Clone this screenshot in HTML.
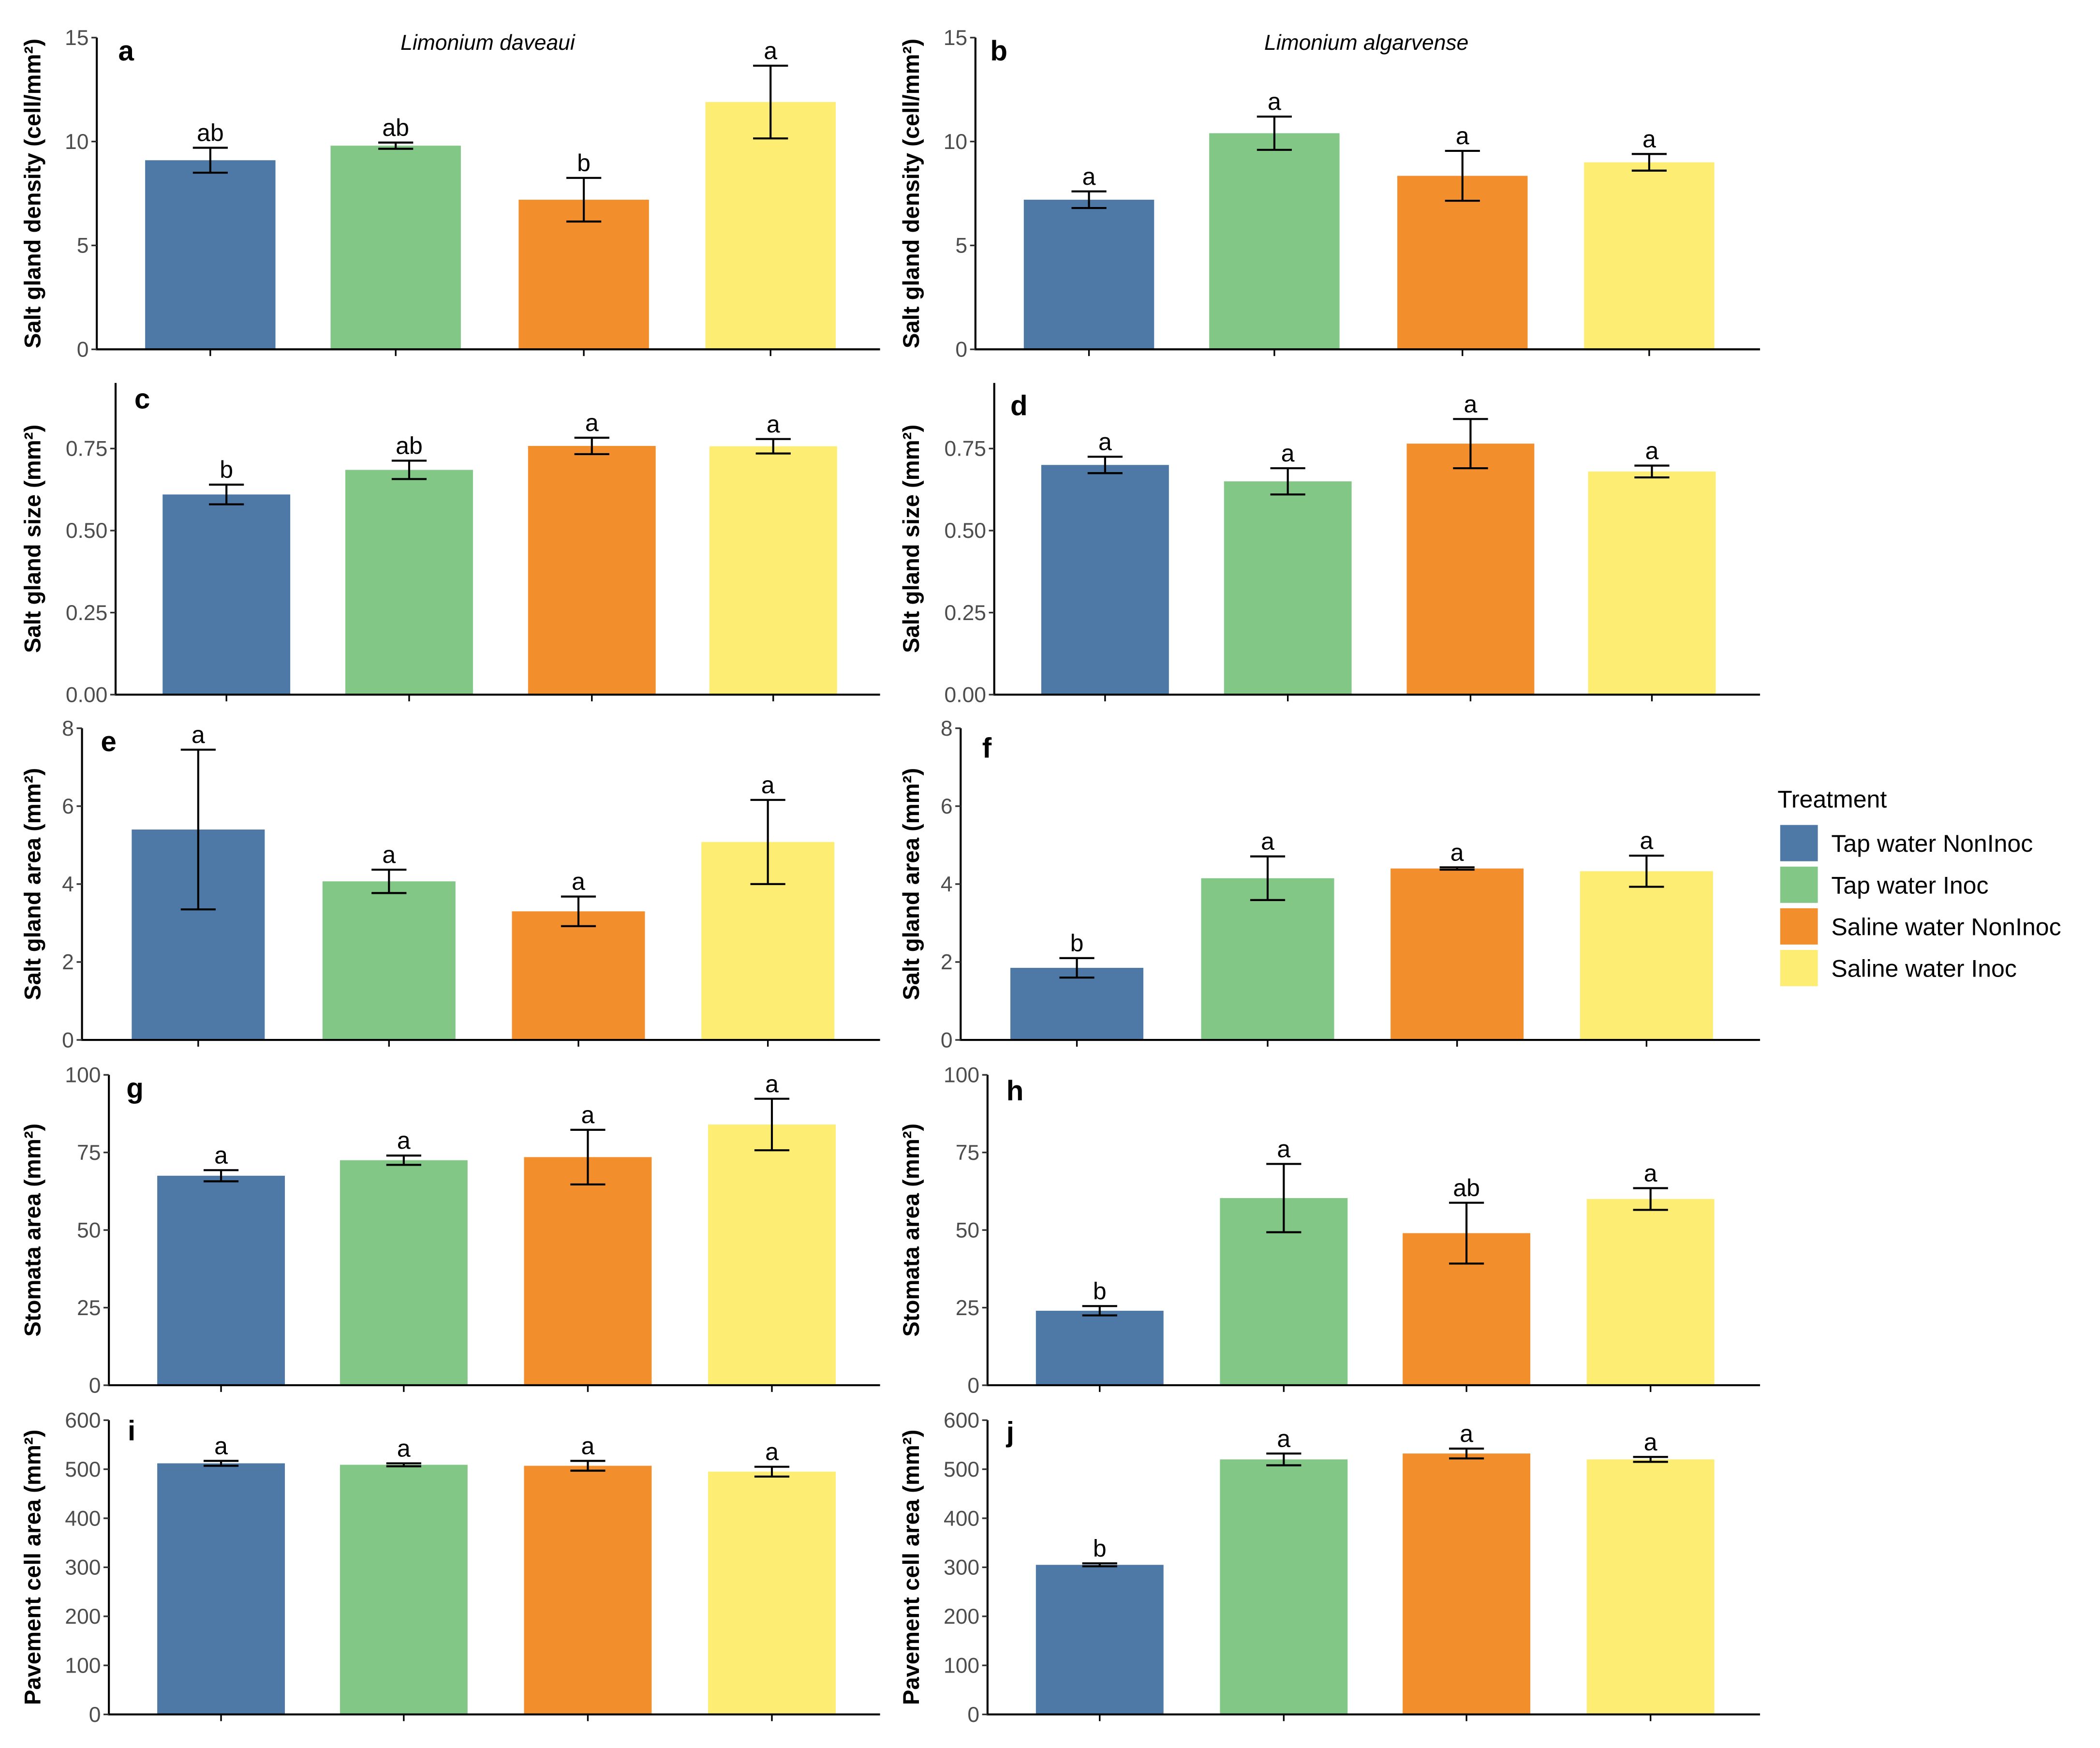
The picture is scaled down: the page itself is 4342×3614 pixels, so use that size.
<!DOCTYPE html>
<html><head><meta charset="utf-8"><style>
html,body{margin:0;padding:0;background:#fff;}
svg{display:block;}
text{font-family:"Liberation Sans",sans-serif;}
</style></head><body>
<svg id="fig" width="4342" height="3614" viewBox="0 0 1563 1301" xmlns="http://www.w3.org/2000/svg"></svg>
<script>
const treatments = ["Tap water NonInoc","Tap water Inoc","Saline water NonInoc","Saline water Inoc"];
const colors = ["#4e78a6","#82c785","#f28e2b","#fded72"];
const meansA = [9.1, 9.8, 7.2, 11.9];       const errA = [0.6, 0.15, 1.05, 1.75]; const lettersA = ["ab","ab","b","a"];
const meansB = [7.2, 10.4, 8.35, 9.0];      const errB = [0.4, 0.8, 1.2, 0.4];    const lettersB = ["a","a","a","a"];
const meansC = [0.61, 0.685, 0.758, 0.757]; const errC = [0.03, 0.028, 0.025, 0.022]; const lettersC = ["b","ab","a","a"];
const meansD = [0.70, 0.65, 0.765, 0.68];   const errD = [0.025, 0.04, 0.075, 0.018]; const lettersD = ["a","a","a","a"];
const meansE = [5.4, 4.07, 3.3, 5.08];      const errE = [2.05, 0.3, 0.38, 1.08]; const lettersE = ["a","a","a","a"];
const meansF = [1.85, 4.15, 4.4, 4.33];     const errF = [0.25, 0.56, 0.03, 0.4]; const lettersF = ["b","a","a","a"];
const meansG = [67.5, 72.5, 73.5, 84];      const errG = [1.8, 1.5, 8.8, 8.3];    const lettersG = ["a","a","a","a"];
const meansH = [24, 60.3, 49, 60];          const errH = [1.5, 11, 9.8, 3.5];     const lettersH = ["b","a","ab","a"];
const meansI = [512, 509, 507, 495];        const errI = [5, 3, 10, 10];          const lettersI = ["a","a","a","a"];
const meansJ = [305, 520, 532, 520];        const errJ = [3, 12, 10, 5];          const lettersJ = ["b","a","a","a"];
const ticks15 = [0,5,10,15];
const ticksSize = ["0.00","0.25","0.50","0.75"];
const ticks8 = [0,2,4,6,8];
const ticks100 = [0,25,50,75,100];
const ticks600 = [0,100,200,300,400,500,600];

const svg = document.getElementById('fig');
const NS = "http://www.w3.org/2000/svg";
function el(tag, attrs, parent){ const e=document.createElementNS(NS,tag); for(const k in attrs) e.setAttribute(k,attrs[k]); (parent||svg).appendChild(e); return e; }

const panels = [
 {id:"a", ax:72, top:28, bot:260, xr:655, ymax:15, ticks:ticks15, bx:[108,246,386,525], bw:97, m:meansA, e:errA, l:lettersA, title:"Salt gland density (cell/mm²)", tx:24, lx:88, ly:45},
 {id:"b", ax:726, top:28, bot:260, xr:1310, ymax:15, ticks:ticks15, bx:[762,900,1040,1179], bw:97, m:meansB, e:errB, l:lettersB, title:"Salt gland density (cell/mm²)", tx:678, lx:737, ly:45},
 {id:"c", ax:86, top:285, bot:517, xr:655, ymax:0.95, ticks:ticksSize, bx:[121,257,393,528], bw:95, m:meansC, e:errC, l:lettersC, title:"Salt gland size (mm²)", tx:24, lx:100, ly:304},
 {id:"d", ax:740, top:285, bot:517, xr:1310, ymax:0.95, ticks:ticksSize, bx:[775,911,1047,1182], bw:95, m:meansD, e:errD, l:lettersD, title:"Salt gland size (mm²)", tx:678, lx:752, ly:309},
 {id:"e", ax:61, top:542, bot:774, xr:655, ymax:8, ticks:ticks8, bx:[98,240,381,522], bw:99, m:meansE, e:errE, l:lettersE, title:"Salt gland area (mm²)", tx:24, lx:75, ly:559},
 {id:"f", ax:715, top:542, bot:774, xr:1310, ymax:8, ticks:ticks8, bx:[752,894,1035,1176], bw:99, m:meansF, e:errF, l:lettersF, title:"Salt gland area (mm²)", tx:678, lx:731, ly:564},
 {id:"g", ax:81, top:800, bot:1031, xr:655, ymax:100, ticks:ticks100, bx:[117,253,390,527], bw:95, m:meansG, e:errG, l:lettersG, title:"Stomata area (mm²)", tx:24, lx:94, ly:817},
 {id:"h", ax:735, top:800, bot:1031, xr:1310, ymax:100, ticks:ticks100, bx:[771,908,1044,1181], bw:95, m:meansH, e:errH, l:lettersH, title:"Stomata area (mm²)", tx:678, lx:749, ly:819},
 {id:"i", ax:81, top:1057, bot:1276, xr:655, ymax:600, ticks:ticks600, bx:[117,253,390,527], bw:95, m:meansI, e:errI, l:lettersI, title:"Pavement cell area (mm²)", tx:24, lx:95, ly:1072},
 {id:"j", ax:735, top:1057, bot:1276, xr:1310, ymax:600, ticks:ticks600, bx:[771,908,1044,1181], bw:95, m:meansJ, e:errJ, l:lettersJ, title:"Pavement cell area (mm²)", tx:678, lx:749, ly:1073}
];

panels.forEach(p=>{
  const g = el('g',{});
  
  
  const y = v => p.bot - (v/p.ymax)*(p.bot-p.top);
  p.m.forEach((v,i)=>{
    const r = el('rect',{x:p.bx[i], y:y(v), width:p.bw, height:p.bot-y(v), fill:colors[i]}, g);
    
    
    const cx = p.bx[i]+p.bw/2, hi=y(v+p.e[i]), lo=y(v-p.e[i]);
    const eb = el('path',{d:`M${cx-13},${hi}H${cx+13}M${cx},${hi}V${lo}M${cx-13},${lo}H${cx+13}`, stroke:"#000", "stroke-width":1.5, fill:"none"}, g);
    
    
    const t = el('text',{x:cx, y:hi-5, "text-anchor":"middle", "font-size":18, fill:"#000"}, g);
    t.textContent = p.l[i];
    
    
    el('line',{x1:cx,x2:cx,y1:p.bot,y2:p.bot+5,stroke:"#000","stroke-width":1.2},g);
  });
  const ax = el('path',{d:`M${p.ax},${p.top}V${p.bot}H${p.xr}`, stroke:"#000", "stroke-width":1.5, fill:"none"}, g);
  
  
  p.ticks.forEach(tk=>{
    const v = parseFloat(tk), ty = y(v);
    el('line',{x1:p.ax-4,x2:p.ax,y1:ty,y2:ty,stroke:"#333","stroke-width":1.2},g);
    const t = el('text',{x:p.ax-6, y:ty+5.5, "text-anchor":"end", "font-size":16, fill:"#4d4d4d"}, g);
    t.textContent = tk;
    
    
  });
  const cy = (p.top+p.bot)/2;
  const yt = el('text',{x:p.tx+6, y:cy, transform:`rotate(-90 ${p.tx+6} ${cy})`, "text-anchor":"middle", "font-size":17, "font-weight":"bold", fill:"#000"}, g);
  yt.textContent = p.title;
  
  
  const pl = el('text',{x:p.lx, y:p.ly, "font-size":21, "font-weight":"bold", fill:"#000"}, g);
  pl.textContent = p.id;
  
  
});

[["Limonium daveaui",363],["Limonium algarvense",1017]].forEach(s=>{
  const t = el('text',{x:s[1], y:37, "text-anchor":"middle", "font-size":16, "font-style":"italic", fill:"#000"});
  t.textContent = s[0];
  
  
});

const lg = el('g',{});


const lt = el('text',{x:1323, y:601, "font-size":18, fill:"#000"}, lg);
lt.textContent = "Treatment";


treatments.forEach((tr,i)=>{
  const sy = 614 + i*31;
  const r = el('rect',{x:1325, y:sy, width:28, height:27, fill:colors[i]}, lg);
  
  
  const t = el('text',{x:1363, y:sy+20, "font-size":18, fill:"#000"}, lg);
  t.textContent = tr;
  
  
});
</script>
</body></html>
